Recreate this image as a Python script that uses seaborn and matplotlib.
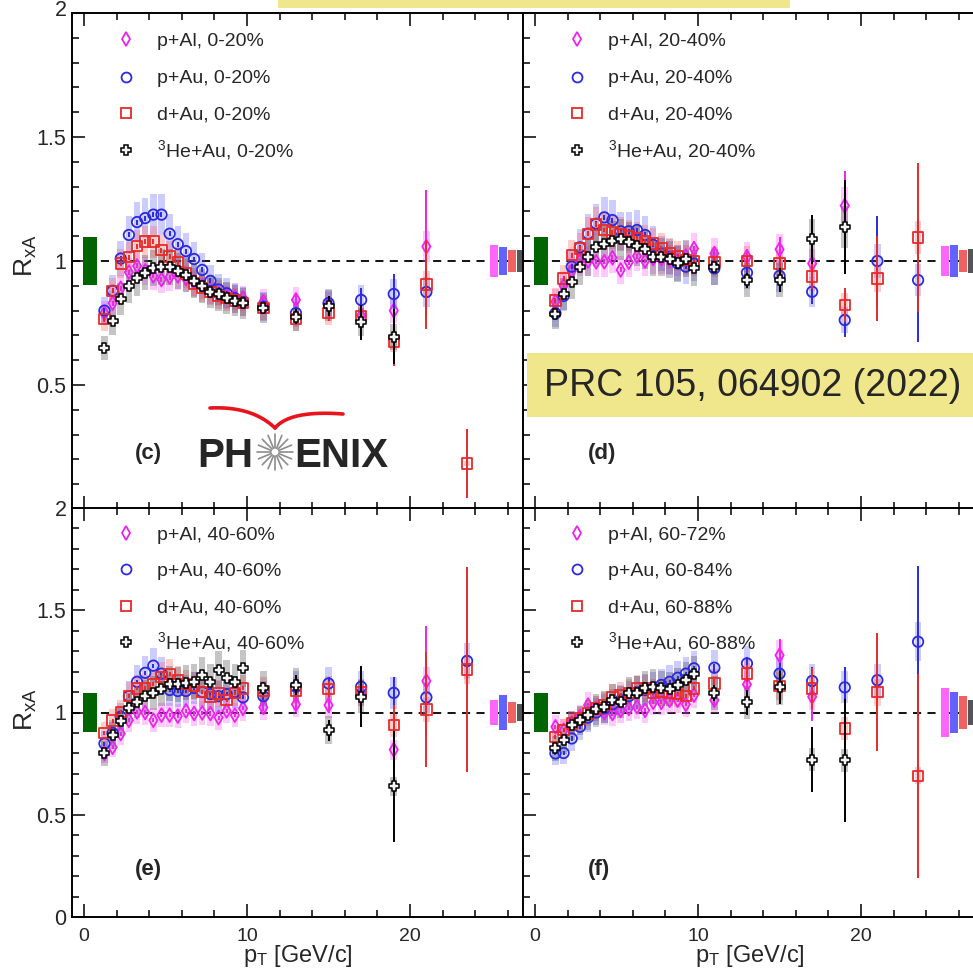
import numpy as np
import matplotlib
matplotlib.use("Agg")
import matplotlib.pyplot as plt
import seaborn as sns
from matplotlib.patches import Rectangle
from matplotlib.lines import Line2D
from matplotlib.ticker import MultipleLocator, FuncFormatter

nan = np.nan

# ---------------- data ----------------
pT = [1.25, 1.75, 2.25, 2.75, 3.25, 3.75, 4.25, 4.75, 5.25, 5.75, 6.25, 6.75,
      7.25, 7.75, 8.25, 8.75, 9.25, 9.75, 11, 13, 15, 17, 19, 21, 23.5]

systems = ["p+Al", "p+Au", "d+Au", r"$\mathregular{^3}$He+Au"]
cent_c = ["0-20%", "0-20%", "0-20%", "0-20%"]
cent_d = ["20-40%", "20-40%", "20-40%", "20-40%"]
cent_e = ["40-60%", "40-60%", "40-60%", "40-60%"]
cent_f = ["60-72%", "60-84%", "60-88%", "60-88%"]

# panel (c) 0-20%
c_pAl = [0.79, 0.83, 0.89, 0.955, 0.98, 0.96, 0.94, 0.925, 0.935, 0.94, 0.93, 0.915, 0.90,
         0.88, 0.87, 0.86, 0.855, 0.85, 0.835, 0.843, 0.825, 0.78, 0.80, 1.058, nan]
c_pAu = [0.80, 0.88, 1.01, 1.105, 1.157, 1.173, 1.187, 1.187, 1.11, 1.068, 1.04, 1.008, 0.964,
         0.92, 0.885, 0.87, 0.85, 0.835, 0.816, 0.79, 0.83, 0.843, 0.867, 0.875, nan]
c_dAu = [0.765, 0.88, 0.99, 1.015, 1.06, 1.078, 1.078, 1.044, 1.018, 0.995, 0.95, 0.91, 0.89,
         0.875, 0.86, 0.85, 0.84, 0.83, 0.81, 0.765, 0.79, 0.778, 0.675, 0.906, 0.184]
c_HeAu = [0.65, 0.758, 0.847, 0.90, 0.93, 0.953, 0.97, 0.975, 0.975, 0.96, 0.944, 0.92, 0.90,
          0.876, 0.865, 0.85, 0.84, 0.83, 0.81, 0.776, 0.82, 0.753, 0.695, nan, nan]
# panel (d) 20-40%
d_pAl = [0.836, 0.90, 0.96, 1.0, 1.0, 0.997, 0.997, 1.013, 0.964, 0.995, 1.02, 1.0, 1.01,
         1.01, 1.005, 1.0, 1.02, 1.05, 1.03, 1.017, 1.047, 0.99, 1.223, nan, nan]
d_pAu = [0.789, 0.859, 0.977, 1.055, 1.11, 1.15, 1.176, 1.165, 1.12, 1.12, 1.125, 1.105, 1.065,
         1.03, 1.017, 0.99, 0.977, 0.99, 0.97, 0.953, 0.94, 0.876, 0.762, 1.0, 0.923]
d_dAu = [0.84, 0.93, 1.024, 1.05, 1.11, 1.148, 1.125, 1.115, 1.11, 1.10, 1.09, 1.08, 1.07,
         1.05, 1.03, 1.02, 1.005, 1.0, 0.995, 1.0, 0.99, 0.937, 0.823, 0.93, 1.095]
d_HeAu = [0.786, 0.867, 0.917, 0.977, 1.017, 1.058, 1.07, 1.08, 1.087, 1.078, 1.06, 1.047, 1.017,
          1.015, 1.007, 0.99, 1.01, 0.97, 0.977, 0.923, 0.923, 1.087, 1.138, nan, nan]
# panel (e) 40-60%
e_pAl = [0.80, 0.83, 0.897, 0.962, 1.003, 1.0, 0.962, 0.987, 0.987, 0.982, 1.008, 0.995, 0.998,
         0.995, 0.975, 1.008, 0.987, 1.02, 1.025, 1.04, 1.036, 1.10, 0.818, 1.154, nan]
e_pAu = [0.848, 0.90, 0.98, 1.08, 1.15, 1.194, 1.229, 1.19, 1.11, 1.105, 1.105, 1.12, 1.10,
         1.09, 1.08, 1.09, 1.10, 1.074, 1.08, 1.126, 1.142, 1.126, 1.096, 1.074, 1.252]
e_dAu = [0.90, 0.96, 1.003, 1.082, 1.118, 1.118, 1.14, 1.175, 1.188, 1.158, 1.14, 1.13, 1.10,
         1.077, 1.093, 1.06, 1.096, 1.118, 1.106, 1.106, 1.114, 1.10, 0.938, 1.015, 1.21]
e_HeAu = [0.80, 0.889, 0.959, 1.02, 1.052, 1.08, 1.096, 1.113, 1.14, 1.139, 1.145, 1.15, 1.183,
          1.15, 1.21, 1.167, 1.15, 1.216, 1.118, 1.134, 0.913, 1.077, 0.639, nan, nan]
# panel (f) peripheral
f_pAl = [0.93, 0.913, 0.95, 0.98, 1.036, 1.02, 1.0, 0.995, 1.01, 1.02, 1.028, 1.011, 1.05,
         1.05, 1.06, 1.06, 1.04, 1.085, 1.06, 1.137, 1.28, 1.077, nan, nan, nan]
f_pAu = [0.80, 0.802, 0.873, 0.93, 0.975, 1.0, 1.02, 1.04, 1.06, 1.08, 1.10, 1.11, 1.12,
         1.135, 1.15, 1.17, 1.19, 1.216, 1.219, 1.24, 1.19, 1.154, 1.123, 1.158, 1.346]
f_dAu = [0.88, 0.913, 0.946, 0.97, 0.995, 1.02, 1.036, 1.077, 1.085, 1.096, 1.118, 1.118, 1.096,
         1.10, 1.096, 1.09, 1.08, 1.118, 1.142, 1.19, 1.129, 1.118, 0.922, 1.10, 0.69]
f_HeAu = [0.824, 0.864, 0.938, 0.962, 0.987, 1.015, 1.028, 1.06, 1.052, 1.093, 1.096, 1.118, 1.126,
          1.118, 1.113, 1.134, 1.158, 1.186, 1.096, 1.049, 1.123, 0.77, 0.766, nan, nan]

# statistical errors for the high-pT points (11, 13, 15, 17, 19, 21, 23.5)
c_stat = [[0.02, 0.02, 0.03, 0.04, 0.06, 0.23, nan],
          [0.02, 0.02, 0.03, 0.05, 0.08, 0.10, nan],
          [0.02, 0.02, 0.03, 0.04, 0.10, 0.18, 0.14],
          [0.02, 0.03, 0.04, 0.07, 0.11, nan, nan]]
d_stat = [[0.02, 0.03, 0.05, 0.05, 0.14, nan, nan],
          [0.02, 0.03, 0.04, 0.05, 0.07, 0.18, 0.25],
          [0.02, 0.02, 0.03, 0.05, 0.07, 0.17, 0.30],
          [0.02, 0.03, 0.05, 0.10, 0.19, nan, nan]]
e_stat = [[0.02, 0.03, 0.04, 0.05, 0.12, 0.27, nan],
          [0.02, 0.03, 0.03, 0.04, 0.08, 0.05, 0.07],
          [0.02, 0.03, 0.04, 0.06, 0.10, 0.28, 0.50],
          [0.03, 0.05, 0.05, 0.15, 0.27, nan, nan]]
f_stat = [[0.03, 0.03, 0.08, 0.12, nan, nan, nan],
          [0.02, 0.03, 0.05, 0.07, 0.10, 0.04, 0.37],
          [0.02, 0.04, 0.05, 0.10, 0.09, 0.29, 0.50],
          [0.04, 0.06, 0.08, 0.16, 0.30, nan, nan]]
low_stat = 0.01   # low-pT statistical errors are hidden inside the markers

# relative systematic (box) uncertainties per system
sys_rel = [0.06, 0.07, 0.06, 0.075]
# global uncertainties (boxes at the right edge) per panel
c_glob = [0.064, 0.056, 0.043, 0.045]
d_glob = [0.062, 0.066, 0.044, 0.047]
e_glob = [0.060, 0.085, 0.050, 0.043]
f_glob = [0.120, 0.098, 0.080, 0.060]
norm_unc = 0.096

# ---------------- style ----------------
sns.set_style("ticks")
plt.rcParams["font.family"] = ["Liberation Sans", "DejaVu Sans"]
plt.rcParams["mathtext.fontset"] = "custom"
plt.rcParams["mathtext.rm"] = "Liberation Sans"
plt.rcParams["mathtext.it"] = "Liberation Sans:italic"
plt.rcParams["mathtext.bf"] = "Liberation Sans:bold"

mk_colors = ["#ee22ee", "#2a2ae0", "#e82a2a", "#000000"]
box_colors = [(1, 0.3, 1, 0.3), (0.35, 0.35, 1, 0.3), (1, 0.35, 0.35, 0.3), (0.25, 0.25, 0.25, 0.3)]
glob_colors = ["#ff66ff", "#6262ff", "#f06262", "#555555"]
markers = ["d", "o", "s", "P"]
msizes = [7, 7.5, 7.5, 7.8]
mews = [1.3, 1.3, 1.3, 1.1]
faces = ["none", "none", "none", "#f4f4f4"]
glob_x = [25.17, 25.72, 26.27, 26.80]

W, H = 973, 976
fig = plt.figure(figsize=(W / 100, H / 100), dpi=100)


def fx(x):
    return x / W


def fy(y):
    return 1 - y / H


axc = fig.add_axes([fx(72), fy(509), 451 / W, 496 / H])
axd = fig.add_axes([fx(523), fy(509), 451 / W, 496 / H])
axe = fig.add_axes([fx(72), fy(917), 451 / W, 409 / H])
axf = fig.add_axes([fx(523), fy(917), 451 / W, 409 / H])

panels = [
    (axc, [c_pAl, c_pAu, c_dAu, c_HeAu], c_stat, c_glob, cent_c, "(c)", True, True, (72, 13), (148, 454)),
    (axd, [d_pAl, d_pAu, d_dAu, d_HeAu], d_stat, d_glob, cent_d, "(d)", True, False, (523, 13), (602, 453)),
    (axe, [e_pAl, e_pAu, e_dAu, e_HeAu], e_stat, e_glob, cent_e, "(e)", False, True, (72, 508), (148, 869)),
    (axf, [f_pAl, f_pAu, f_dAu, f_HeAu], f_stat, f_glob, cent_f, "(f)", False, False, (523, 508), (599, 870)),
]

x_arr = np.array(pT)
for ax, series, stats, glob, cents, tag, is_top, is_left, (x0, y0), (lx, ly) in panels:
    ax.set_xlim(-0.74, 26.93)
    ax.set_ylim(0, 2)
    ax.axhline(1, color="black", lw=1.3, ls=(0, (4.5, 3.5)), zorder=1)
    # normalisation box at 1
    ax.bar([0.37], [2 * norm_unc], bottom=1 - norm_unc, width=0.82, color="#006400", zorder=2, lw=0)
    # global boxes on the right
    g = np.array(glob)
    ax.bar(glob_x, 2 * g, bottom=1 - g, width=0.5, color=glob_colors, zorder=2, lw=0)
    # systematic boxes
    for i, vals in enumerate(series):
        v = np.array(vals, dtype=float)
        m = ~np.isnan(v)
        s = v[m] * sys_rel[i]
        ax.bar(x_arr[m], 2 * s, bottom=v[m] - s, width=0.4, color=box_colors[i], lw=0, zorder=3)
    # stat errors and markers
    for i, vals in enumerate(series):
        v = np.array(vals, dtype=float)
        st = np.r_[np.full(18, low_stat), np.array(stats[i], dtype=float)]
        m = ~np.isnan(v)
        ax.errorbar(x_arr[m], v[m], yerr=np.nan_to_num(st[m]), fmt="none", ecolor=mk_colors[i],
                    elinewidth=1.4, capsize=0, zorder=4 + i)
        sns.scatterplot(x=x_arr[m], y=v[m], ax=ax, marker=markers[i], s=msizes[i] ** 2,
                        facecolor=faces[i], edgecolor=mk_colors[i], linewidth=mews[i],
                        zorder=5 + i, legend=False)
    # axes cosmetics
    for sp in ax.spines.values():
        sp.set_linewidth(1.4)
        sp.set_color("black")
        sp.set_visible(True)
    ax.spines["right"].set_visible(False)
    ax.xaxis.set_major_locator(MultipleLocator(10))
    ax.xaxis.set_minor_locator(MultipleLocator(2))
    ax.yaxis.set_major_locator(MultipleLocator(0.5))
    ax.yaxis.set_minor_locator(MultipleLocator(0.1))
    ax.tick_params(which="both", direction="in", top=True, bottom=True, left=True, right=False,
                   width=1.1, color="black")
    ax.tick_params(which="major", length=9.5)
    ax.tick_params(which="minor", length=5)
    ax.tick_params(axis="y", labelsize=15.5, pad=4)
    ax.tick_params(axis="x", labelsize=14, pad=8)
    if is_top:
        # the "0" is not labelled and the "2" sits at the top edge
        ax.yaxis.set_major_formatter(FuncFormatter(
            lambda v, p: "" if (abs(v) < 1e-9 or abs(v - 2) < 1e-9) else "%g" % v))
        ax.tick_params(labelbottom=False)
    else:
        ax.yaxis.set_major_formatter(FuncFormatter(lambda v, p: "%g" % v))
    if not is_left:
        ax.tick_params(labelleft=False)
    ax.set_xlabel("")
    ax.set_ylabel("")
    # legend
    rows = [26, 63.5, 100, 137] if is_top else [25, 61, 98, 134]
    for i in range(4):
        ax.plot([fx(x0 + 54)], [fy(y0 + rows[i])], transform=fig.transFigure, clip_on=False,
                marker=markers[i], ms=msizes[i] * 0.95, mfc=faces[i], mec=mk_colors[i], mew=mews[i],
                ls="none")
        fig.text(fx(x0 + 85), fy(y0 + rows[i] + 6.5), f"{systems[i]}, {cents[i]}",
                 fontsize=14, ha="left", va="baseline")
    fig.text(fx(lx), fy(ly), tag, fontsize=16, fontweight="bold", ha="center", va="center")

# "2" label at the very top of the upper-left panel (kept inside the canvas)
fig.text(fx(61), fy(10), "2", fontsize=15.5, ha="center", va="center")

# axis labels
for yc in (256, 710):
    fig.text(fx(26), fy(yc), r"$\mathregular{R_{xA}}$", rotation=90, fontsize=19,
             ha="center", va="center")
for xc in (298, 750):
    fig.text(fx(xc), fy(956), r"$\mathregular{p_T}$ [GeV/c]", fontsize=17, ha="center", va="center")

# PHENIX logo
fig.text(fx(197), fy(467), "PH", fontsize=29, fontweight="bold", ha="left", va="baseline")
fig.text(fx(294), fy(467), "ENIX", fontsize=29, fontweight="bold", ha="left", va="baseline")
cx, cy = 275, 452
for k in range(16):
    a = 2 * np.pi * k / 16
    fig.add_artist(Line2D([fx(cx + 4 * np.cos(a)), fx(cx + 18 * np.cos(a))],
                          [fy(cy + 4 * np.sin(a)), fy(cy + 18 * np.sin(a))],
                          color="#8c8c8c", lw=1.2))
t = np.linspace(0, 1, 50)


def bez(p0, p1, p2):
    bx = (1 - t) ** 2 * p0[0] + 2 * (1 - t) * t * p1[0] + t ** 2 * p2[0]
    by = (1 - t) ** 2 * p0[1] + 2 * (1 - t) * t * p1[1] + t ** 2 * p2[1]
    return bx, by


for (p0, p1, p2), lw in [(((210, 408), (252, 406), (275, 428)), 2.6),
                         (((275, 428), (290, 410), (343, 414)), 2.6)]:
    bx, by = bez(p0, p1, p2)
    fig.add_artist(Line2D(fx(bx), fy(by), color="#e8141c", lw=lw, solid_capstyle="round"))

# yellow citation boxes
fig.add_artist(Rectangle((fx(278), fy(7.5)), (790 - 278) / W, 7.5 / H, transform=fig.transFigure,
                         facecolor="#f0e68c", edgecolor="none", zorder=5))
fig.add_artist(Rectangle((fx(527), fy(417)), (980 - 527) / W, (417 - 353) / H, transform=fig.transFigure,
                         facecolor="#f0e68c", edgecolor="none", zorder=5))
fig.text(fx(753), fy(386), "PRC 105, 064902 (2022)", fontsize=27, ha="center", va="center", zorder=6)

fig.savefig("out.png", dpi=100)
